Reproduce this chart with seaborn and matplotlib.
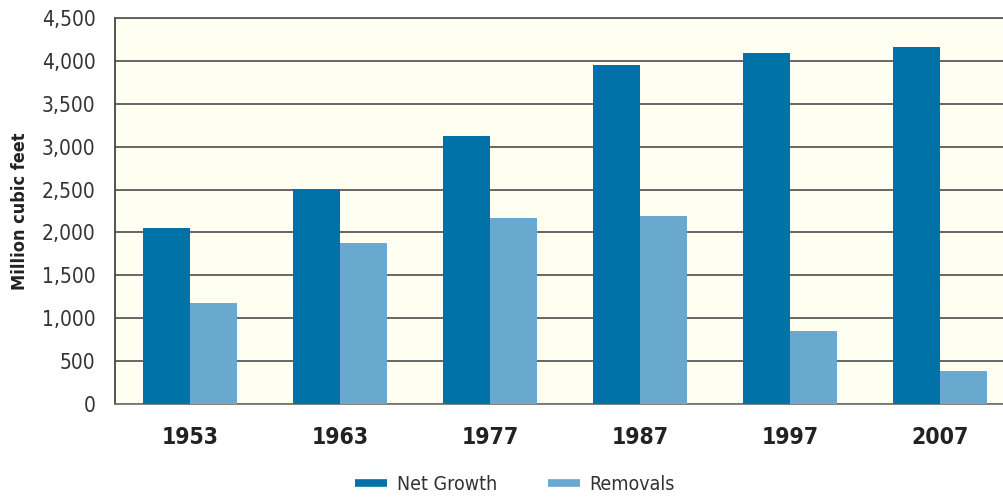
import matplotlib
matplotlib.use("Agg")
import matplotlib.pyplot as plt
from matplotlib.lines import Line2D
from matplotlib import font_manager
import seaborn as sns
import pandas as pd

years = ["1953", "1963", "1977", "1987", "1997", "2007"]
net_growth = [2050, 2510, 3130, 3955, 4095, 4165]
removals = [1175, 1880, 2170, 2190, 850, 385]
series_names = ["Net Growth", "Removals"]
y_ticks = [0, 500, 1000, 1500, 2000, 2500, 3000, 3500, 4000, 4500]
y_label = "Million cubic feet"

colors = ["#0072A8", "#69A8CF"]

df = pd.DataFrame({
    "year": years * 2,
    "series": [series_names[0]] * len(years) + [series_names[1]] * len(years),
    "value": net_growth + removals,
})

sns.set_theme(style="white")
names = {f.name for f in font_manager.fontManager.ttflist}
if "Liberation Sans Narrow" in names:
    plt.rcParams["font.family"] = ["Liberation Sans Narrow", "DejaVu Sans"]
else:
    plt.rcParams["font.family"] = ["DejaVu Sans"]
    plt.rcParams["font.stretch"] = "condensed"

W, H = 1004, 498
fig = plt.figure(figsize=(W / 100, H / 100), dpi=100)
ax = fig.add_axes([115 / W, (H - 404) / H, 900 / W, 386 / H])
ax.set_facecolor("#FEFEF1")

sns.barplot(data=df, x="year", y="value", hue="series", order=years,
            hue_order=series_names, palette=colors, width=0.627,
            saturation=1, legend=False, ax=ax, errorbar=None, zorder=3,
            linewidth=0, edgecolor="none")

ax.set_ylim(0, 4500)
ax.set_xlim(-0.5, len(years) - 0.5)
ax.set_yticks(y_ticks)
ax.set_yticklabels([f"{v:,}" for v in y_ticks], fontsize=15, color="#333333")
ax.set_xticks(range(len(years)))
ax.set_xticklabels(years, fontsize=16.5, fontweight="bold", color="#222222")
ax.tick_params(axis="y", length=0, pad=14)
ax.tick_params(axis="x", length=0, pad=16)
ax.set_xlabel("")
ax.set_ylabel(y_label, fontsize=13, fontweight="bold", color="#222222")
ax.yaxis.set_label_coords(-86 / 900, 0.5)

ax.yaxis.grid(True, color="#5a5a5a", linewidth=1.3, zorder=1)
ax.set_axisbelow(True)
ax.spines["right"].set_visible(False)
ax.spines["top"].set_color("#5a5a5a")
ax.spines["top"].set_linewidth(1.3)
ax.spines["left"].set_color("#444444")
ax.spines["left"].set_linewidth(1.3)
ax.spines["bottom"].set_color("#777777")
ax.spines["bottom"].set_linewidth(1.3)

handles = [Line2D([0], [0], color=c, lw=5.5, solid_capstyle="butt") for c in colors]
fig.legend(handles, series_names, loc="center", bbox_to_anchor=(515 / W, 1 - 484 / H),
           ncol=2, frameon=False, fontsize=14, handlelength=1.65,
           handletextpad=0.5, columnspacing=2.6, labelcolor="#333333")

fig.savefig("out.png", dpi=100, facecolor="white")
